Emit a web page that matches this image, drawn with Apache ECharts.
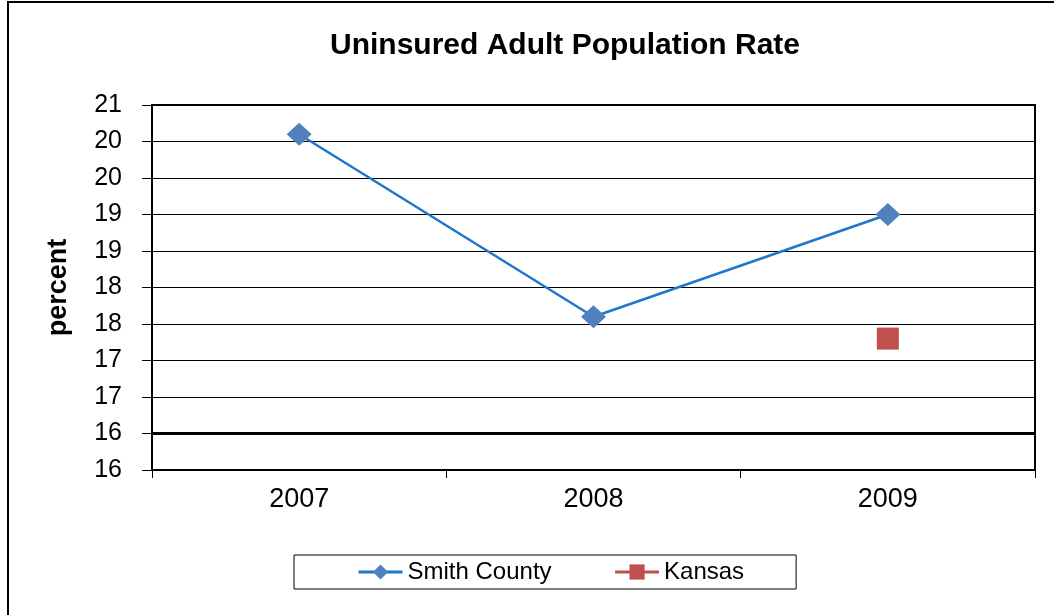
<!DOCTYPE html>
<html>
<head>
<meta charset="utf-8">
<script src="https://cdn.jsdelivr.net/npm/echarts@6/dist/echarts.min.js"></script>
<style>
    html, body { margin: 0; padding: 0; background: #fff; }
    #main { width: 1054px; height: 615px; }
</style>
</head>
<body>
<div id="main"></div>
<script>
// 数据
var years = ['2007', '2008', '2009'];
var smithCounty = [20.6, 18.1, 19.5];
var kansas = [null, null, 17.8];
var yTickLabels = ['16', '16', '17', '17', '18', '18', '19', '19', '20', '20', '21'];

var chart = echarts.init(document.getElementById('main'));
var font = 'Liberation Sans, Arial, sans-serif';

var option = {
    animation: false,
    backgroundColor: '#fff',
    textStyle: {
        fontFamily: font
    },
    title: {
        text: 'Uninsured Adult Population Rate',
        left: 560,
        top: 26,
        textAlign: 'center',
        textStyle: {
            fontFamily: font,
            fontSize: 30,
            fontWeight: 'bold',
            color: '#000'
        }
    },
    graphic: [{
        type: 'polyline',
        shape: { points: [[8, 615], [8, 2], [1054, 2]] },
        style: { stroke: '#000', lineWidth: 2, fill: null }
    }],
    legend: {
        left: 294,
        top: 555,
        padding: [5, 52, 5, 63],
        itemGap: 62,
        itemWidth: 44,
        itemHeight: 19,
        borderColor: '#000',
        borderWidth: 1,
        lineStyle: { width: 3 },
        textStyle: {
            fontFamily: font,
            fontSize: 24,
            color: '#000'
        },
        data: ['Smith County', 'Kansas']
    },
    grid: {
        left: 152,
        right: 19,
        top: 105,
        bottom: 145,
        show: true,
        borderColor: '#000',
        borderWidth: 2,
        containLabel: false
    },
    xAxis: {
        type: 'category',
        data: years,
        boundaryGap: true,
        axisLine: { lineStyle: { color: '#000', width: 2 } },
        axisTick: { show: true, length: 8, lineStyle: { color: '#000', width: 1 } },
        axisLabel: {
            margin: 16,
            fontSize: 27,
            color: '#000',
            fontFamily: font
        }
    },
    yAxis: {
        type: 'value',
        min: 16,
        max: 21,
        interval: 0.5,
        name: 'percent',
        nameLocation: 'middle',
        nameGap: 80,
        nameTextStyle: {
            fontFamily: font,
            fontSize: 27,
            fontWeight: 'bold',
            color: '#000'
        },
        axisLine: { show: true, lineStyle: { color: '#000', width: 2 } },
        axisTick: { show: true, length: 10, lineStyle: { color: '#000', width: 1 } },
        axisLabel: {
            margin: 30,
            fontSize: 25,
            color: '#000',
            fontFamily: font,
            formatter: function (v) {
                return yTickLabels[Math.round((v - 16) / 0.5)];
            }
        },
        splitLine: { show: true, lineStyle: { color: '#000', width: 1.2 } }
    },
    series: [{
        name: 'Smith County',
        type: 'line',
        data: smithCounty,
        symbol: 'diamond',
        symbolSize: [25, 23],
        lineStyle: { color: '#1f77c9', width: 2.5 },
        itemStyle: { color: '#4f81bd' },
        markLine: {
            silent: true,
            symbol: 'none',
            label: { show: false },
            lineStyle: { color: '#000', width: 3, type: 'solid' },
            data: [{ yAxis: 16.5 }]
        },
        z: 3
    }, {
        name: 'Kansas',
        type: 'line',
        data: kansas,
        symbol: 'rect',
        symbolSize: 22,
        lineStyle: { color: '#c0504d', width: 2.5 },
        itemStyle: { color: '#c0504d' },
        z: 3
    }]
};

chart.setOption(option);
</script>
</body>
</html>
